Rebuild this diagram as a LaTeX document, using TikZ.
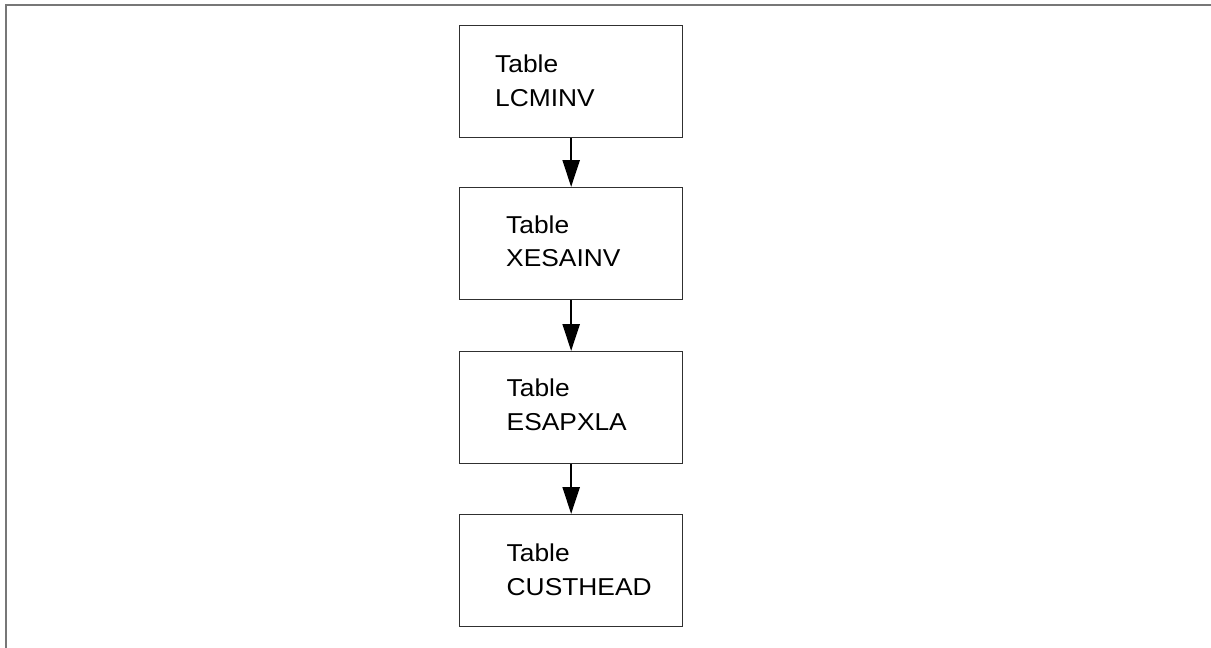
\documentclass[tikz,border=0pt]{standalone}
\usepackage{fontspec}
\setmainfont{Liberation Sans}
\usetikzlibrary{arrows.meta}
\definecolor{framegray}{HTML}{777777}
\definecolor{boxgray}{HTML}{303030}
\begin{document}
\begin{tikzpicture}[x=1pt,y=-1pt,
  tbox/.style={draw=boxgray,line width=1.3pt,minimum width=223pt,minimum height=112pt,inner sep=0pt,anchor=north west},
  tlabel/.style={anchor=base west,inner sep=0pt,font=\fontsize{24.4pt}{33pt}\selectfont},
  flow/.style={line width=2.5pt,-{Triangle[length=27pt,width=17pt]}}]
\useasboundingbox (0,0) rectangle (1211,648);
\draw[framegray,line width=2pt] (6,648) -- (6,4.5) -- (1211,4.5);
\node[tbox] (b1) at (459,25) {};
\node[tbox] (b2) at (459,187) {};
\node[tbox] (b3) at (459,351) {};
\node[tbox] (b4) at (459,514) {};
\node[tlabel] (t1a) at (495,72.7) {\scalebox{1.08}[1]{Table}};
\node[tlabel] (t1b) at (495,106) {\scalebox{1.08}[1]{LCMINV}};
\node[tlabel] (t2a) at (506,233.3) {\scalebox{1.08}[1]{Table}};
\node[tlabel] (t2b) at (506,266) {\scalebox{1.08}[1]{XESAINV}};
\node[tlabel] (t3a) at (506.5,396.7) {\scalebox{1.08}[1]{Table}};
\node[tlabel] (t3b) at (506.5,430) {\scalebox{1.08}[1]{ESAPXLA}};
\node[tlabel] (t4a) at (506.5,561.7) {\scalebox{1.08}[1]{Table}};
\node[tlabel] (t4b) at (506.5,595) {\scalebox{1.08}[1]{CUSTHEAD}};
\draw[flow] (b1.south) -- (b2.north);
\draw[flow] (b2.south) -- (b3.north);
\draw[flow] (b3.south) -- (b4.north);
\end{tikzpicture}
\end{document}
